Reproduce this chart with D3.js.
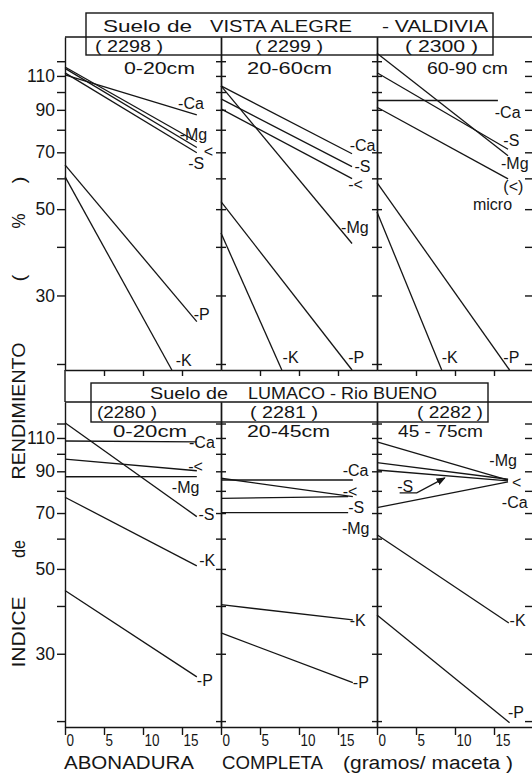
<!DOCTYPE html>
<html>
<head>
<meta charset="utf-8">
<script src="https://cdn.jsdelivr.net/npm/d3@7"></script>
<style>
  body { margin: 0; background: #fff; }
  svg text { font-family: "Liberation Sans", Arial, sans-serif; fill: #151515; }
  .series { stroke: #151515; stroke-width: 1.3; }
  .axis path, .axis line { stroke: #151515; stroke-width: 1.4; }
</style>
</head>
<body>
<svg id="chart" width="532" height="775"></svg>
<script>
// Indice de rendimiento (%) vs abonadura completa (gramos/maceta)
const yTicks = [20, 30, 40, 50, 60, 70, 80, 90, 100, 110, 120];
const yTickLabels = [30, 50, 70, 90, 110];
const xTicks = [0, 5, 10, 15];

const soilNames = [["Suelo de", "VISTA ALEGRE", "- VALDIVIA"], ["Suelo de", "LUMACO - Rio BUENO"]];
const sampleIds = [["( 2298 )", "( 2299 )", "( 2300 )"], ["(2280 )", "( 2281 )", "( 2282 )"]];
const depths = [["0-20cm", "20-60cm", "60-90 cm"], ["0-20cm", "20-45cm", "45 - 75cm"]];

// each line: element, dose at start, index at start, dose at end, index at end
const va2298 = [
  ["Ca", 0, 110.7, 16.9, 87.4],
  ["Mg", 0, 116, 16.9, 74.5],
  ["micro", 0, 115, 16.9, 72],
  ["S", 0, 112, 16.9, 69.8],
  ["P", 0, 65, 16.9, 25.7],
  ["K", 0, 60.6, 13.7, 19.3]
];
const va2299 = [
  ["Ca", 0, 103.7, 16.8, 69.4],
  ["S", 0, 96, 16.8, 64.3],
  ["micro", 0, 90.5, 16.8, 59.9],
  ["Mg", 0, 103.7, 16.8, 40.8],
  ["P", 0, 52.3, 16.8, 19.3],
  ["K", 0, 43.4, 7.8, 19.3]
];
const va2300 = [
  ["Ca", 0, 95.1, 15.5, 95.1],
  ["S", 0, 112.1, 16.8, 71.3],
  ["Mg", 0, 125.8, 16.8, 68.6],
  ["micro", 0, 91.4, 16.8, 59.8],
  ["P", 0, 58.5, 17, 19.3],
  ["K", 0, 49.2, 8.3, 19.3]
];
const lu2280 = [
  ["Ca", 0, 108, 16.9, 107.5],
  ["micro", 0, 96.8, 16.9, 90.3],
  ["Mg", 0, 87.1, 16.9, 87.2],
  ["S", 0, 120.6, 16.9, 68.5],
  ["K", 0, 77, 16.9, 50.9],
  ["P", 0, 43.9, 16.9, 26.1]
];
const lu2281 = [
  ["Ca", 0, 85.4, 16.9, 85.4],
  ["micro", 0, 86.3, 16.9, 77.3],
  ["S", 0, 76.5, 16.3, 77.3],
  ["Mg", 0, 70.2, 16.3, 70.2],
  ["K", 0, 40.3, 16.9, 36.8],
  ["P", 0, 34, 16.9, 25.2]
];
const lu2282 = [
  ["Mg", 0, 107.5, 16.8, 85.4],
  ["Ca", 0, 94.8, 16.8, 85.8],
  ["micro", 0, 90.7, 16.8, 85],
  ["S", 0, 72.3, 16.8, 84.5],
  ["K", 0, 61.4, 16.9, 36.1],
  ["P", 0, 37.9, 17, 19.8]
];

// curve tags: text, dose, index
const tags2298 = [["-Ca", 14.5, 93.8], ["-Mg", 14.7, 78.1], ["<", 17.8, 70.4], ["-S", 15.8, 65.5], ["-P", 16.5, 26.9], ["-K", 14.2, 20.5]];
const tags2299 = [["-Ca", 16.5, 73.1], ["-S", 17.1, 64.3], ["-<", 16.3, 57.8], ["-Mg", 15.4, 44.8], ["-K", 7.9, 20.8], ["-P", 16.3, 20.8]];
const tags2300 = [["-Ca", 15.1, 88.8], ["-S", 16.2, 75.3], ["-Mg", 15.9, 65.8], ["(<)", 16.2, 57.3], ["micro", 12.3, 51.6], ["-K", 8.3, 20.8], ["-P", 16.2, 20.8]];
const tags2280 = [["-Ca", 15.9, 107.4], ["-<", 15.8, 92.9], ["-Mg", 13.7, 81.9], ["-S", 17.1, 69.6], ["-K", 17.2, 52.8], ["-P", 16.9, 25.5]];
const tags2281 = [["-Ca", 15.6, 90.7], ["-<", 15.6, 80], ["-S", 16.3, 72.6], ["-Mg", 15.5, 64], ["-K", 16.5, 36.6], ["-P", 16.9, 25.3]];
const tags2282 = [["-Mg", 14.4, 96.4], ["<", 17.3, 84.4], ["-Ca", 16, 74.8], ["-S", 2.6, 82.2], ["-K", 17, 36.8], ["-P", 16.8, 21.1]];
// arrow from the S tag to its curve in 2282
const sArrow = [[2.9, 79], [5.1, 79], [8.7, 86.5]];

// layout
const panelX = [65, 221, 377];
const panelW = 156;
const rows = [
  { top: 37, bottom: 370, yMax: 138.5, series: [va2298, va2299, va2300], tags: [tags2298, tags2299, tags2300],
    box: [86, 13, 407, 42], titleY: 32, titleX: [[103, 89], [210, 142], [382, 106]],
    idY: 52, idX: [[95, 68], [255, 68], [405, 73]], depthY: 74, depthX: [[124, 71], [247, 85], [427, 81]] },
  { top: 402, bottom: 727, yMax: 136.6, series: [lu2280, lu2281, lu2282], tags: [tags2280, tags2281, tags2282],
    box: [91, 383, 397, 39], titleY: 399, titleX: [[150, 78], [248, 189]],
    idY: 418, idX: [[97, 60], [250, 68], [417, 66]], depthY: 437, depthX: [[113, 74], [247, 83], [398, 85]] }
];

const svg = d3.select("#chart");
svg.append("defs").append("marker")
  .attr("id", "arrow").attr("viewBox", "0 0 10 10").attr("refX", 9).attr("refY", 5)
  .attr("markerWidth", 7).attr("markerHeight", 7).attr("orient", "auto")
  .append("path").attr("d", "M0,1L10,5L0,9Z").attr("fill", "#151515");

function placeText(g, str, x, y, len, size) {
  return g.append("text").attr("x", x).attr("y", y).attr("font-size", size)
    .attr("textLength", len).attr("lengthAdjust", "spacingAndGlyphs").text(str);
}

rows.forEach((row, ri) => {
  const y = d3.scaleLog().domain([19.3, row.yMax]).range([row.bottom, row.top]);
  const g = svg.append("g");

  // heading box
  g.append("rect").attr("x", row.box[0]).attr("y", row.box[1]).attr("width", row.box[2]).attr("height", row.box[3])
    .attr("fill", "none").attr("stroke", "#151515").attr("stroke-width", 1.4);
  soilNames[ri].forEach((s, k) => placeText(g, s, row.titleX[k][0], row.titleY, row.titleX[k][1], 17));
  g.append("line").attr("x1", 65).attr("x2", 532).attr("y1", row.top).attr("y2", row.top)
    .attr("stroke", "#151515").attr("stroke-width", 1.4);

  row.series.forEach((series, i) => {
    const x = d3.scaleLinear().domain([0, 20]).range([panelX[i], panelX[i] + panelW]);
    const pg = g.append("g");

    placeText(pg, sampleIds[ri][i], row.idX[i][0], row.idY, row.idX[i][1], 16);
    placeText(pg, depths[ri][i], row.depthX[i][0], row.depthY, row.depthX[i][1], 16);

    pg.selectAll("line.series").data(series).join("line")
      .attr("class", "series")
      .attr("x1", d => x(d[1])).attr("y1", d => y(d[2]))
      .attr("x2", d => x(d[3])).attr("y2", d => y(d[4]));

    pg.selectAll("text.tag").data(row.tags[i]).join("text")
      .attr("class", "tag")
      .attr("x", d => x(d[1])).attr("y", d => y(d[2]))
      .attr("dy", "0.36em").attr("font-size", 16)
      .text(d => d[0]);

    // x axis
    const xa = svg.append("g").attr("class", "axis")
      .attr("transform", `translate(0,${row.bottom})`)
      .call(d3.axisBottom(x).tickValues(ri ? xTicks : xTicks.slice(1))
        .tickSize(ri ? 8 : 6).tickSizeOuter(0).tickFormat(ri ? d => d : ""));
    xa.selectAll("text")
      .attr("text-anchor", "start").attr("x", 1).attr("y", 19).attr("dy", null)
      .attr("font-size", 17).attr("font-family", null)
      .attr("textLength", d => String(d).length * 7.5).attr("lengthAdjust", "spacingAndGlyphs");

    if (ri === 1 && i === 2) {
      pg.append("path")
        .attr("d", d3.line().x(d => x(d[0])).y(d => y(d[1]))(sArrow))
        .attr("fill", "none").attr("stroke", "#151515").attr("stroke-width", 1.3)
        .attr("marker-end", "url(#arrow)");
    }
  });

  // y axis on the left with labels
  const ya = svg.append("g").attr("class", "axis").attr("transform", `translate(65,0)`)
    .call(d3.axisLeft(y).tickValues(yTicks).tickSize(8).tickSizeOuter(0)
      .tickFormat(d => yTickLabels.includes(d) ? d : ""));
  ya.selectAll("text").attr("font-size", 17.5).attr("x", -10);
  ya.attr("font-family", null);

  // ticks on the panel dividers (both sides)
  [221, 377].forEach(px => {
    svg.append("g").attr("class", "axis").attr("transform", `translate(${px},0)`)
      .call(d3.axisLeft(y).tickValues(yTicks).tickSize(5).tickSizeOuter(0).tickFormat(""));
    svg.append("g").attr("class", "axis").attr("transform", `translate(${px},0)`)
      .call(d3.axisRight(y).tickValues(yTicks).tickSize(5).tickSizeOuter(0).tickFormat(""));
  });
  // right edge, ticks inward
  svg.append("g").attr("class", "axis").attr("transform", `translate(533,0)`)
    .call(d3.axisLeft(y).tickValues(yTicks).tickSize(8).tickSizeOuter(0).tickFormat(""));
});

// left axis runs on between the two rows
svg.append("line").attr("x1", 65).attr("x2", 65).attr("y1", 370).attr("y2", 402)
  .attr("stroke", "#151515").attr("stroke-width", 1.4);

// vertical axis title, written upwards
const yTitle = [["INDICE", 632, 71], ["de", 549, 18], ["RENDIMIENTO", 411, 137], ["(", 278, 7], ["%", 221, 15], [")", 180, 7]];
yTitle.forEach(([s, yc, len]) => {
  svg.append("text").attr("transform", `translate(25,${yc}) rotate(-90)`)
    .attr("text-anchor", "middle").attr("font-size", 18)
    .attr("textLength", len).attr("lengthAdjust", "spacingAndGlyphs").text(s);
});

// horizontal axis title
const xTitle = [["ABONADURA", 64, 130], ["COMPLETA", 222, 101], ["(gramos/ maceta )", 343, 170]];
xTitle.forEach(([s, x0, len]) => {
  svg.append("text").attr("x", x0).attr("y", 769).attr("font-size", 18)
    .attr("textLength", len).attr("lengthAdjust", "spacingAndGlyphs").text(s);
});
</script>
</body>
</html>
